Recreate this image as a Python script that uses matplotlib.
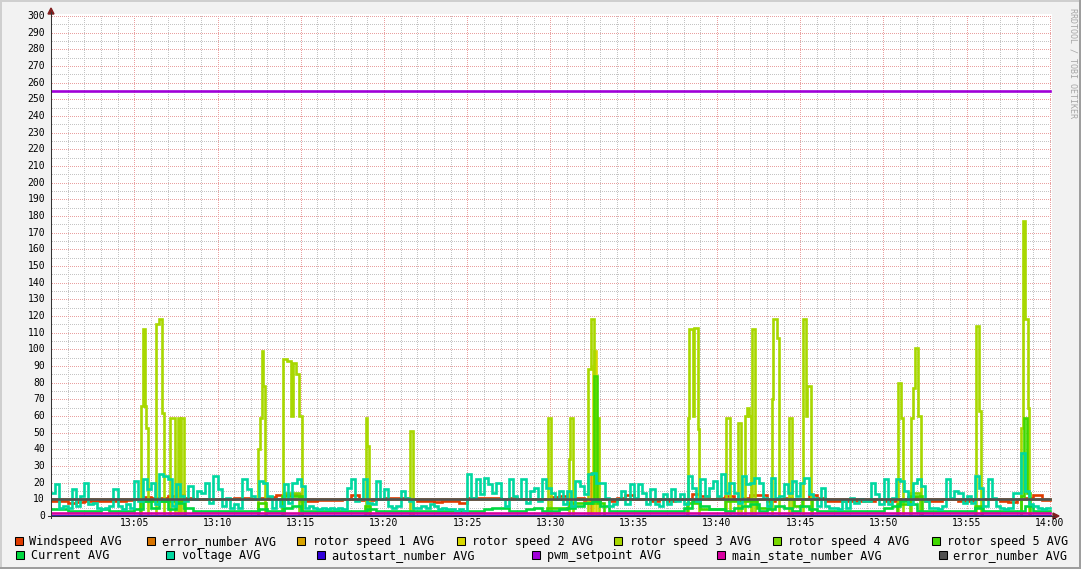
import numpy as np
import matplotlib
matplotlib.use('Agg')
import matplotlib.pyplot as plt
from matplotlib.patches import Rectangle, Polygon
from matplotlib.lines import Line2D
from matplotlib.colors import to_rgba

# ---------------- data (minutes after 13:00) ----------------
x_tick_labels = ["13:05", "13:10", "13:15", "13:20", "13:25", "13:30",
                 "13:35", "13:40", "13:45", "13:50", "13:55", "14:00"]
x_tick_minutes = [5, 10, 15, 20, 25, 30, 35, 40, 45, 50, 55, 60]
y_ticks = list(range(0, 301, 10))

legend_labels = ["Windspeed AVG", "error_number AVG", "rotor speed 1 AVG",
                 "rotor speed 2 AVG", "rotor speed 3 AVG", "rotor speed 4 AVG",
                 "rotor speed 5 AVG", "Current AVG", "voltage AVG",
                 "autostart_number AVG", "pwm_setpoint AVG",
                 "main_state_number AVG", "error_number AVG"]
colors = ["#E03C00", "#D87400", "#D8A400", "#D8D800", "#A8D800", "#78D800",
          "#40D800", "#00D840", "#00D8A0", "#3000D8", "#A000D8", "#D800A0",
          "#505050"]

# voltage, 4 samples per minute (15 s)
voltage = [
    14, 19, 5, 6,  5, 16, 6, 12,  20, 7, 8, 5,  4, 5, 6, 16,  6, 4, 7, 5,
    21, 9, 22, 16,  20, 7, 25, 24,  22, 6, 19, 12,  9, 18, 10, 15,  14, 20, 8, 24,
    16, 6, 11, 5,  7, 5, 22, 16,  12, 10, 21, 20,  12, 5, 10, 6,  19, 8, 20, 22,
    18, 5, 6, 5,  4, 5, 4, 5,  4, 5, 4, 17,  22, 9, 10, 22,  8, 7, 21, 10,
    16, 6, 5, 6,  15, 11, 9, 5,  5, 6, 5, 7,  6, 4, 5, 4,  4, 3, 4, 3,
    25, 11, 22, 13,  23, 19, 14, 20,  10, 6, 22, 12,  10, 22, 8, 15,  17, 9, 22, 17,
    14, 10, 15, 7,  15, 6, 21, 18,  13, 25, 26, 20,  20, 11, 6, 7,  10, 15, 7, 19,
    11, 19, 14, 7,  16, 7, 6, 13,  7, 16, 9, 13,  7, 24, 17, 9,  22, 12, 17, 21,
    12, 25, 14, 20,  14, 8, 24, 19,  20, 23, 20, 11,  6, 23, 11, 12,  19, 14, 21, 12,
    20, 23, 13, 11,  6, 17, 6, 5,  5, 4, 9, 5,  11, 8, 10, 9,  9, 20, 13, 7,
    22, 7, 11, 22,  21, 15, 7, 20,  22, 18, 9, 5,  5, 4, 6, 22,  11, 15, 14, 8,
    12, 8, 24, 17,  6, 22, 11, 6,  5, 4, 5, 14,  14, 38, 15, 7,  6, 5, 4, 5,
]

# windspeed, 2 samples per minute (30 s)
windspeed = [
    9, 9, 8, 8.5, 9, 9, 9, 9, 9, 9.5,
    10, 11.5, 11, 11, 12, 12.5, 11, 10, 10.5, 10.5,
    10, 10.5, 11, 11, 10.5, 11, 11.5, 12.5, 13, 13,
    9, 9, 9.5, 9.5, 9.5, 10, 12.5, 9.5, 9.5, 10,
    11, 11, 11, 10, 9, 9, 8.5, 9, 9, 8,
    11, 11, 11, 11, 10.5, 11, 10.5, 10.5, 10.5, 10.5,
    11.5, 12, 11, 11, 9.5, 9.5, 10, 9, 11, 12.5,
    10, 10, 9, 10, 9, 10, 10.5, 13, 12, 10.5,
    11, 12, 10.5, 11, 12.5, 12.5, 9, 10, 11, 10,
    10.5, 12.5, 11, 9, 9, 9, 9, 9, 9, 10,
    9, 9, 10, 11.5, 10.5, 9, 9, 10, 10, 9,
    9, 10, 10.5, 10, 9, 8.5, 10, 11, 12.5, 9.5,
]

# current, 2 samples per minute (30 s)
current = [
    4, 4, 3, 3, 3, 3, 4, 3, 3, 3,
    4, 9, 5, 9, 4, 8, 5, 3, 3, 3,
    3, 3, 3, 3, 3, 4, 3, 3, 5, 6,
    3, 3, 3, 3, 3, 3, 3, 3, 4, 3,
    3, 3, 3, 3, 3, 3, 3, 3, 3, 3,
    3, 3, 4, 5, 5, 3, 3, 4, 5, 3,
    3, 4, 5, 6, 8, 9, 6, 3, 3, 3,
    3, 3, 3, 3, 3, 3, 5, 9, 6, 4,
    4, 3, 5, 6, 7, 3, 4, 6, 5, 3,
    6, 4, 3, 3, 3, 3, 3, 3, 3, 3,
    5, 6, 9, 7, 3, 3, 3, 3, 3, 3,
    3, 5, 3, 3, 3, 3, 3, 6, 3, 3,
]

# rotor speeds: change points (minute, value held until next change)
rs1_t = [0, 32.42, 32.52, 60]
rs1_v = [0, 26, 0, 0]
rs2_t = [0, 32.55, 32.60, 32.76, 60]
rs2_v = [0, 90, 99, 0, 0]
rs3_t = [0, 5.40, 5.50, 5.62, 5.70, 5.80, 6.30, 6.50, 6.68, 6.78, 7.12, 7.42,
         7.62, 7.75, 7.82, 8.00, 12.45, 12.55, 12.65, 12.75, 12.85, 13.95,
         14.20, 14.42, 14.55, 14.72, 14.92, 15.05, 18.90, 19.00, 19.10, 21.58,
         21.72, 29.82, 30.02, 31.13, 31.20, 31.35, 32.28, 32.42, 32.60, 32.92,
         38.25, 38.33, 38.55, 38.62, 38.85, 38.92, 40.55, 40.80, 41.25, 41.45,
         41.68, 41.78, 41.92, 42.05, 42.08, 42.30, 43.28, 43.35, 43.62, 43.70,
         44.30, 44.48, 45.15, 45.35, 45.42, 45.62, 50.85, 51.05, 51.20, 51.68,
         51.78, 51.90, 52.05, 52.25, 55.58, 55.75, 55.88, 58.28, 58.38, 58.50,
         58.65, 58.75, 60]
rs3_v = [0, 66, 112, 66, 53, 0, 115, 118, 62, 0, 59, 0,
         59, 0, 59, 0, 40, 59, 99, 78, 0, 94,
         93, 60, 92, 85, 60, 0, 59, 42, 0, 51,
         0, 59, 0, 34, 59, 0, 88, 118, 59, 0,
         59, 112, 60, 113, 52, 0, 59, 0, 56, 0,
         60, 65, 60, 0, 112, 0, 70, 118, 107, 0,
         59, 0, 118, 60, 78, 0, 80, 59, 0, 59,
         77, 101, 60, 0, 114, 63, 0, 53, 177, 118,
         65, 0, 0]
rs4_t = [0, 14.0, 14.9, 51.6, 52.2, 60]
rs4_v = [0, 14, 0, 14, 0, 0]
rs5_t = [0, 5.35, 8.05, 12.45, 12.9, 13.9, 15.1, 18.85, 19.15, 29.8, 31.1,
         32.6, 32.78, 33.2, 38.2, 39.0, 40.5, 42.4, 43.2, 44.6, 45.1, 45.7,
         50.8, 51.6, 52.3, 55.5, 55.9, 58.25, 58.45, 58.6, 58.8, 60]
rs5_v = [0, 9, 0, 8, 0, 12, 0, 6, 0, 5, 8,
         84, 8, 0, 8, 4, 9, 5, 10, 6, 10, 0,
         7, 12, 0, 6, 0, 12, 59, 14, 0, 0]

error_number_value = 10
autostart_value = 0
pwm_setpoint_value = 255
main_state_value = 2

# ---------------- figure ----------------
W, H = 1081, 569
fig = plt.figure(figsize=(W / 100, H / 100), dpi=100, facecolor='#F2F2F2')


def fx(px):
    return px / W


def fy(py):
    return 1 - py / H


# white canvas (below grid image)
fig.add_artist(Rectangle((fx(51), fy(516)), fx(1052) - fx(51), fy(13.5) - fy(516),
                         facecolor='white', edgecolor='none', zorder=-3))

ax = fig.add_axes([fx(51), fy(516), fx(1052) - fx(51), fy(13.5) - fy(516)])
ax.set_facecolor('none')
ax.patch.set_alpha(0)
ax.set_xlim(0, 60.12)
ax.set_ylim(0, 301.5)
for s in ax.spines.values():
    s.set_visible(False)
ax.set_xticks([])
ax.set_yticks([])

# dotted grid rendered as a pixel image
px_per_min = 999 / 60
px_per_unit = 500 / 300
grid_img = np.zeros((H, W, 4))
minor_rgba = to_rgba('#C4C4C4')
major_rgba = to_rgba('#E9A0A0')


def gx(m):
    return int(round(51 + m * px_per_min))


def gy(v):
    return int(round(516 - v * px_per_unit))


for m in range(1, 61):
    if m % 5:
        grid_img[gy(300):516:2, gx(m)] = minor_rgba
for yv in range(5, 301, 10):
    grid_img[gy(yv), 52:1051:2] = minor_rgba
for m in x_tick_minutes:
    grid_img[gy(300):516:2, gx(m)] = major_rgba
for yv in y_ticks[1:]:
    grid_img[gy(yv), 52:1051:2] = major_rgba
fig.figimage(grid_img, xo=0, yo=0, origin='upper', zorder=-2)

LW = 1.9
t4 = np.arange(len(voltage)) * 0.25
t2 = np.arange(len(windspeed)) * 0.5
t2c = np.arange(len(current)) * 0.5


def step(t, v, col, z):
    t = list(t) + [60]
    v = list(v) + [v[-1]]
    ax.step(t, v, where='post', color=col, lw=LW, zorder=z,
            solid_joinstyle='miter')


step(t2, windspeed, colors[0], 2)
step([0], [error_number_value], colors[1], 3)
step(rs1_t, rs1_v, colors[2], 4)
step(rs2_t, rs2_v, colors[3], 5)
step(rs3_t, rs3_v, colors[4], 6)
step(rs4_t, rs4_v, colors[5], 7)
step(rs5_t, rs5_v, colors[6], 8)
step(t2c, current, colors[7], 9)
step(t4, voltage, colors[8], 10)
step([0], [autostart_value], colors[9], 11)
step([0], [pwm_setpoint_value], colors[10], 12)
step([0], [main_state_value], colors[11], 13)
step([0], [error_number_value], colors[12], 14)

# tick labels
mono = 'DejaVu Sans Mono'
for yv in y_ticks:
    py = 516 - yv * px_per_unit
    fig.text(fx(45), fy(py), str(yv), ha='right', va='center',
             fontsize=7, family=mono, color='black')
for m, lab in zip(x_tick_minutes, x_tick_labels):
    px = 51 + m * px_per_min
    fig.text(fx(px), fy(523), lab, ha='center', va='center',
             fontsize=7, family=mono, color='black')

# axes lines and arrows
axis_col = '#333333'
arrow_col = '#801F1F'
fig.add_artist(Line2D([fx(51), fx(51)], [fy(518), fy(12)], color=axis_col,
                      lw=0.75))
fig.add_artist(Line2D([fx(48), fx(1054)], [fy(516), fy(516)], color=axis_col,
                      lw=0.75))
fig.add_artist(Polygon([[fx(48), fy(14)], [fx(54), fy(14)], [fx(51), fy(8)]],
                       closed=True, color=arrow_col))
fig.add_artist(Polygon([[fx(1053), fy(513)], [fx(1053), fy(519)], [fx(1059), fy(516)]],
                       closed=True, color=arrow_col))

# watermark
fig.text(fx(1073), fy(8), "RRDTOOL / TOBI OETIKER", rotation=270,
         ha='center', va='top', fontsize=6, family=mono, color='#A6A6A6')

# legend
row1_sw = [15, 147, 297, 457, 614, 773, 932]
row1_tx = [29, 162, 313, 472, 630, 788, 947]
row2_sw = [16, 166, 317, 532, 717, 939]
row2_tx = [31, 182, 332, 547, 732, 953]
entries = [(row1_sw[i], row1_tx[i], 537, legend_labels[i], colors[i]) for i in range(7)]
entries += [(row2_sw[i], row2_tx[i], 551, legend_labels[7 + i], colors[7 + i]) for i in range(6)]
for sx, tx, sy, lab, col in entries:
    fig.add_artist(Rectangle((fx(sx), fy(sy + 8)), 8 / W, 8 / H,
                             facecolor=col, edgecolor='black', lw=0.75))
    fig.text(fx(tx), fy(sy + 4.5), lab, ha='left', va='center',
             fontsize=8.5, family=mono, color='black')

# 3D frame shading
fig.add_artist(Rectangle((0, 0), 1, 2 / H, facecolor='#9E9E9E', edgecolor='none'))
fig.add_artist(Rectangle((1 - 2 / W, 0), 2 / W, 1, facecolor='#9E9E9E', edgecolor='none'))
fig.add_artist(Rectangle((0, 1 - 2 / H), 1 - 2 / W, 2 / H, facecolor='#CFCFCF', edgecolor='none'))
fig.add_artist(Rectangle((0, 2 / H), 2 / W, 1 - 2 / H, facecolor='#CFCFCF', edgecolor='none'))

fig.savefig('out.png', dpi=100, facecolor=fig.get_facecolor())
